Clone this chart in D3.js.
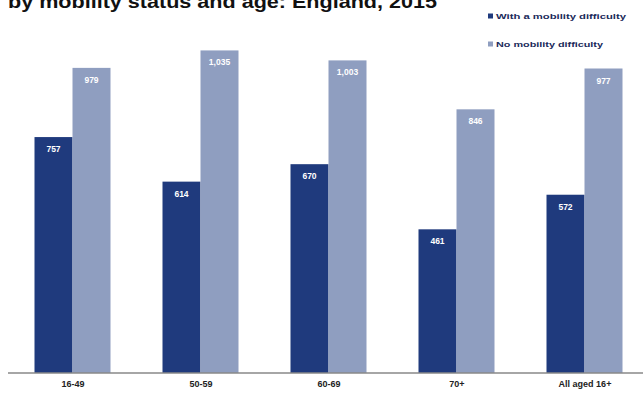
<!DOCTYPE html>
<html><head><meta charset="utf-8">
<script src="https://cdn.jsdelivr.net/npm/d3@7"></script>
<style>body{margin:0;background:#fff;}svg{display:block;font-family:"Liberation Sans",Arial,sans-serif;}</style>
</head><body>
<svg id="chart" width="643" height="395"></svg>
<script>
const categories = ["16-49", "50-59", "60-69", "70+", "All aged 16+"];
const seriesNames = ["With a mobility difficulty", "No mobility difficulty"];
const withDifficulty = [757, 614, 670, 461, 572];
const noDifficulty = [979, 1035, 1003, 846, 977];
const colors = ["#1f3a7d", "#8f9ec0"];
const title = "by mobility status and age: England, 2015";

const svg = d3.select("#chart");
const x = d3.scalePoint().domain(categories).range([8.5, 648.5]).padding(0.5);
const y = d3.scaleLinear().domain([0, 1200]).range([373, -1]);
const barW = 38;
const fmt = d3.format(",");

const data = categories.map((c, i) => ({cat: c, vals: [withDifficulty[i], noDifficulty[i]]}));

const g = svg.append("g");
data.forEach(d => {
  d.vals.forEach((v, s) => {
    const x0 = x(d.cat) + (s === 0 ? -barW : 0);
    g.append("rect").attr("x", x0).attr("y", y(v)).attr("width", barW).attr("height", y(0) - y(v)).attr("fill", colors[s]);
    g.append("text").attr("x", x0 + barW / 2).attr("y", y(v) + 15).attr("text-anchor", "middle")
      .attr("fill", "#fff").attr("font-size", 8.5).attr("font-weight", "bold").text(fmt(v));
  });
});

// axis
const axis = svg.append("g").attr("transform", "translate(0,373)")
  .call(d3.axisBottom(x).tickSize(0).tickPadding(8));
axis.select(".domain").attr("d", "M8,0H643").attr("stroke", "#888").attr("stroke-width", 1.5);
axis.selectAll("text").attr("font-size", 9).attr("font-weight", "bold").attr("fill", "#222")
  .attr("font-family", "Liberation Sans, Arial, sans-serif");

// title (cut at the top edge, as in the reference)
svg.append("text").attr("x", 8).attr("y", 8).attr("font-size", 19).attr("font-weight", "bold")
  .attr("fill", "#111").attr("textLength", 429).attr("lengthAdjust", "spacingAndGlyphs").text(title);

// legend
const legY = [16, 44];
const legLen = [130, 107];
seriesNames.forEach((n, i) => {
  svg.append("rect").attr("x", 488).attr("y", legY[i] - 2.5).attr("width", 5).attr("height", 5).attr("fill", colors[i]);
  svg.append("text").attr("x", 496).attr("y", legY[i] + 2.5).attr("font-size", 7.5).attr("font-weight", "bold")
    .attr("fill", "#1a2a5a").attr("textLength", legLen[i]).attr("lengthAdjust", "spacingAndGlyphs").text(n);
});
</script>
</body></html>
